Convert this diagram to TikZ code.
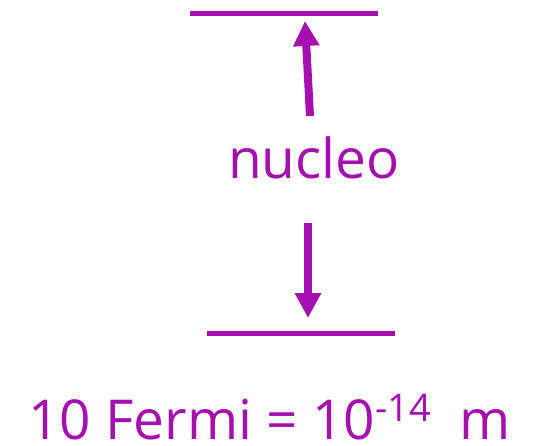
\documentclass[tikz,border=0pt]{standalone}
\usepackage{fontspec}
\setmainfont{Open Sans}
\usetikzlibrary{arrows.meta}
\definecolor{nuc}{RGB}{165,15,176}
\begin{document}
\begin{tikzpicture}[x=1pt,y=-1pt,
  bar/.style={draw=nuc,line width=5pt},
  arr/.style={draw=nuc,line width=8pt,-{Triangle[width=25pt,length=25pt]}},
  lbl/.style={text=nuc,inner sep=0pt}]
\useasboundingbox (0,0) rectangle (549,445);
\coordinate (tl) at (190,13);
\coordinate (tr) at (378,13);
\coordinate (bl) at (207,333);
\coordinate (br) at (395,333);
\draw[bar] (tl) -- (tr);
\draw[bar] (bl) -- (br);
\coordinate (ua) at (310,116);
\coordinate (ub) at (305,21);
\coordinate (da) at (308,223);
\coordinate (db) at (308,318);
\draw[arr] (ua) -- (ub);
\draw[arr] (da) -- (db);
\node[lbl,font=\fontsize{55}{60}\selectfont,anchor=base] (nuc) at (314,178) {nucleo};
\node[lbl,font=\fontsize{55}{66}\selectfont,anchor=base west,text depth=0pt] (eq) at (28,439) {10 Fermi = 10\raisebox{18pt}{\fontsize{38}{40}\selectfont -14}\ \ m};
\end{tikzpicture}
\end{document}
